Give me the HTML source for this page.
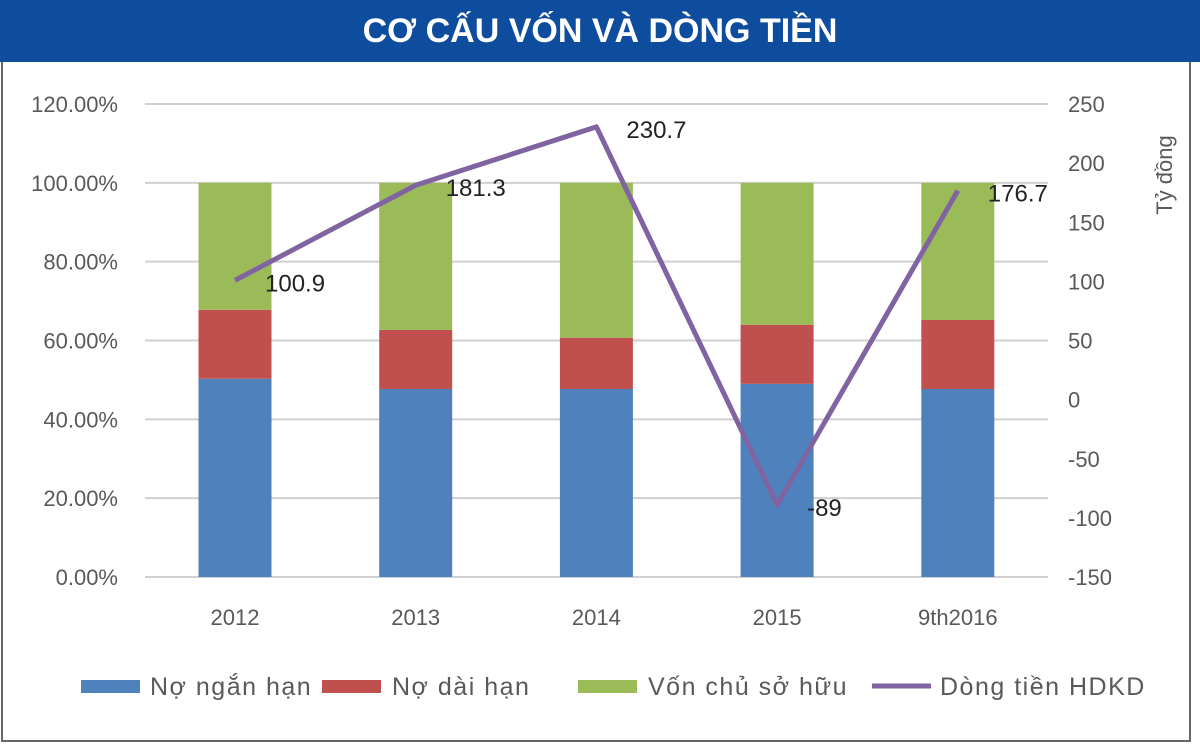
<!DOCTYPE html>
<html><head><meta charset="utf-8"><style>
body{margin:0;width:1200px;height:750px;background:#fff;overflow:hidden;font-family:"Liberation Sans","DejaVu Sans",sans-serif}
#title{position:absolute;left:0;top:0;width:1200px;height:62px;background:#0e4c9e;color:#fff;font-weight:bold;font-size:34px;text-align:center;line-height:62px}
#frame{position:absolute;left:1px;top:62px;width:1190px;height:680px;border:2px solid #666;border-top:none;box-sizing:border-box}
svg{position:absolute;left:0;top:0}
</style></head><body>
<div id="title">CƠ CẤU VỐN VÀ DÒNG TIỀN</div>
<div id="frame"></div>
<svg id="chart" width="1200" height="750"></svg>
<script>
const categories=["2012","2013","2014","2015","9th2016"];
const shortDebt=[50.3,47.7,47.7,49,47.7];
const longDebt=[17.5,15,13,15,17.5];
const equity=[32.2,37.3,39.3,36,34.8];
const cashFlow=[100.9,181.3,230.7,-89,176.7];
const leftTicks=[0,20,40,60,80,100,120];
const rightTicks=[-150,-100,-50,0,50,100,150,200,250];
const NS="http://www.w3.org/2000/svg";
const svg=document.getElementById('chart');
function el(t,a,p){const e=document.createElementNS(NS,t);for(const k in a)e.setAttribute(k,a[k]);(p||svg).appendChild(e);return e;}
const yL=v=>577-v*(577-104)/120;
const yR=v=>577-(v+150)*(577-104)/400;
const xC=i=>235+i*180.7;
const bw=73;
leftTicks.forEach(t=>{
 const g=el('line',{x1:145,x2:1048,y1:yL(t),y2:yL(t),stroke:'#d0d0d0','stroke-width':2});
 
 const tx=el('text',{x:118,y:yL(t)+8,'text-anchor':'end','font-size':22,fill:'#595959'});
 tx.textContent=t.toFixed(2)+'%';
 
});
rightTicks.forEach(t=>{
 const tx=el('text',{x:1068,y:yR(t)+8,'font-size':22,fill:'#595959'});
 tx.textContent=t;
 
});
const yt=el('text',{transform:'translate(1172,175) rotate(-90)','text-anchor':'middle','font-size':22,fill:'#595959'});
yt.textContent='Tỷ đồng';

categories.forEach((c,i)=>{
 let base=0;
 [[shortDebt,'#4f81bd','bar-short-debt'],[longDebt,'#c0504d','bar-long-debt'],[equity,'#9bbb59','bar-equity']].forEach(([arr,col,nm])=>{
  const r=el('rect',{x:xC(i)-bw/2,y:yL(base+arr[i]),width:bw,height:yL(base)-yL(base+arr[i]),fill:col});
  
  base+=arr[i];
 });
 const tx=el('text',{x:xC(i),y:625,'text-anchor':'middle','font-size':22,fill:'#595959'});
 tx.textContent=c;
 
});
const pts=cashFlow.map((v,i)=>xC(i)+','+yR(v)).join(' ');
const pl=el('polyline',{points:pts,fill:'none',stroke:'#8064a2','stroke-width':5,'stroke-linejoin':'round'});

cashFlow.forEach((v,i)=>{
 const tx=el('text',{x:xC(i)+30,y:yR(v)+11,'font-size':24,fill:'#222'});
 tx.textContent=v;
 
});
const legend=[['rect','#4f81bd','Nợ ngắn hạn',81,150],['rect','#c0504d','Nợ dài hạn',322,392],['rect','#9bbb59','Vốn chủ sở hữu',578,648],['line','#8064a2','Dòng tiền HDKD',872,940]];
legend.forEach(([t,col,label,sx,tx0])=>{
 let s;
 if(t==='rect')s=el('rect',{x:sx,y:680,width:59,height:13,fill:col});
 else s=el('line',{x1:sx,x2:sx+59,y1:686,y2:686,stroke:col,'stroke-width':5});
 
 const tx=el('text',{x:tx0,y:695,'font-size':25,fill:'#595959','letter-spacing':1.5});
 tx.textContent=label;
 
});
</script>
</body></html>
